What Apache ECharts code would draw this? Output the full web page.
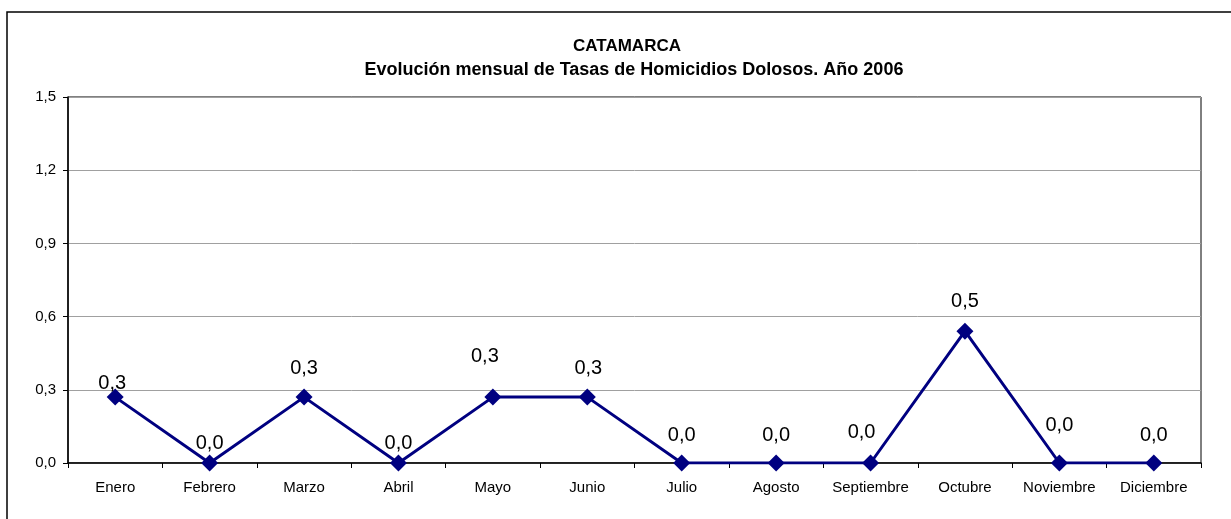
<!DOCTYPE html>
<html>
<head>
<meta charset="utf-8">
<title>CATAMARCA - Tasas de Homicidios Dolosos 2006</title>
<script src="https://cdn.jsdelivr.net/npm/echarts@6/dist/echarts.min.js"></script>
<style>
  html, body { margin: 0; padding: 0; background: #fff; }
  #chart { width: 1231px; height: 519px; }
</style>
</head>
<body>
<div id="chart"></div>
<script>
// Months of 2006
const months = ['Enero', 'Febrero', 'Marzo', 'Abril', 'Mayo', 'Junio',
  'Julio', 'Agosto', 'Septiembre', 'Octubre', 'Noviembre', 'Diciembre'];

// Monthly rate of intentional homicides
const rates = [0.27, 0, 0.27, 0, 0.27, 0.27, 0, 0, 0, 0.54, 0, 0];

// Value axis ticks
const yTicks = [0, 0.3, 0.6, 0.9, 1.2, 1.5];

const titleLine1 = 'CATAMARCA';
const titleLine2 = 'Evolución mensual de Tasas de Homicidios Dolosos. Año 2006';

const fontFamily = '"Liberation Sans", Arial, sans-serif';
const comma = v => v.toFixed(1).replace('.', ',');

// Hand-placed data label nudges (dx, dy from the marker centre)
const labelNudge = [
  [-3, -14], [0, -20], [0, -29], [0, -20], [-8, -41], [1, -29],
  [0, -28], [0, -28], [-9, -31], [0, -30], [0, -38], [0, -28]
];

const seriesData = rates.map((v, i) => ({
  value: v,
  label: { offset: labelNudge[i] }
}));

const chart = echarts.init(document.getElementById('chart'), null, { renderer: 'canvas' });

chart.setOption({
  animation: false,
  backgroundColor: '#ffffff',
  textStyle: { fontFamily: fontFamily },
  title: [
    {
      text: titleLine1,
      left: 622, top: 33, textAlign: 'center',
      textStyle: { fontFamily: fontFamily, fontSize: 17, fontWeight: 'bold', color: '#000' }
    },
    {
      text: titleLine2,
      left: 629, top: 56, textAlign: 'center',
      textStyle: { fontFamily: fontFamily, fontSize: 18, fontWeight: 'bold', color: '#000' }
    }
  ],
  graphic: [
    {
      type: 'rect',
      silent: true,
      shape: { x: 7, y: 12, width: 1400, height: 700 },
      style: { fill: 'none', stroke: '#000', lineWidth: 1.5 }
    }
  ],
  grid: {
    left: 68, right: 30, top: 97, bottom: 56,
    show: true, borderColor: '#000', borderWidth: 1, backgroundColor: 'transparent'
  },
  xAxis: {
    type: 'category',
    data: months,
    boundaryGap: true,
    axisLine: { show: true, lineStyle: { color: '#000', width: 1.5 } },
    axisTick: { show: true, inside: false, length: 5, alignWithLabel: false, lineStyle: { color: '#000' } },
    axisLabel: { color: '#000', fontSize: 15, margin: 17, fontFamily: fontFamily, interval: 0 },
    splitLine: { show: false }
  },
  yAxis: {
    type: 'value',
    min: yTicks[0],
    max: yTicks[yTicks.length - 1],
    interval: yTicks[1] - yTicks[0],
    axisLine: { show: true, lineStyle: { color: '#000', width: 1.5 } },
    axisTick: { show: true, inside: false, length: 5, lineStyle: { color: '#000' } },
    axisLabel: { color: '#000', fontSize: 15, margin: 12, fontFamily: fontFamily, formatter: v => comma(v) },
    splitLine: { show: true, lineStyle: { color: '#a0a0a0', width: 1 } }
  },
  series: [
    {
      type: 'line',
      data: seriesData,
      symbol: 'diamond',
      symbolSize: 17,
      lineStyle: { color: '#000080', width: 3 },
      itemStyle: { color: '#000080' },
      label: {
        show: true,
        position: 'inside',
        color: '#000',
        fontSize: 20,
        fontFamily: fontFamily,
        formatter: p => comma(p.value)
      },
      z: 5
    }
  ]
});
</script>
</body>
</html>
